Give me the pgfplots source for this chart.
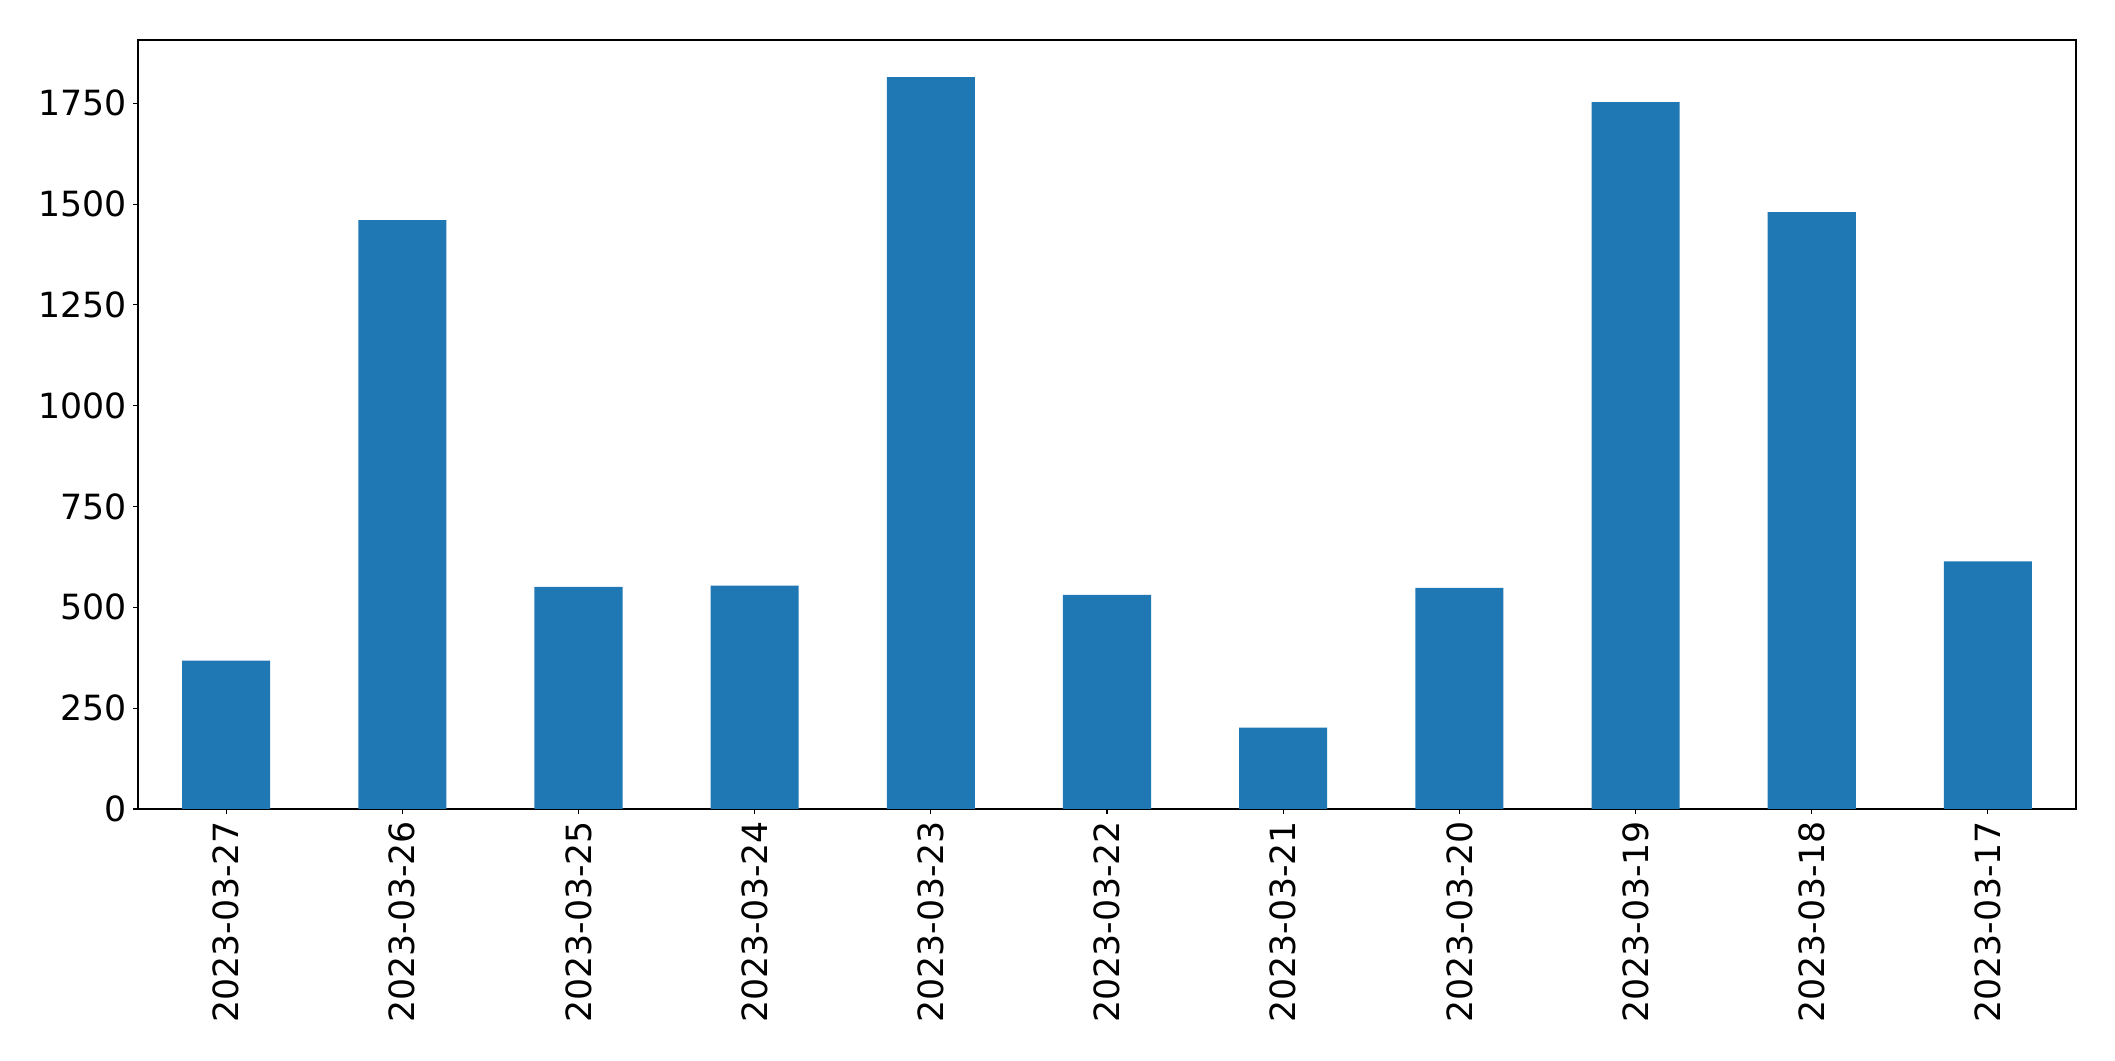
\documentclass[border=0pt]{standalone}
\usepackage{fontspec}
\setmainfont{DejaVu Sans}
\usepackage{pgfplots}
\pgfplotsset{compat=1.18}
\definecolor{mplblue}{HTML}{1F77B4}
\begin{document}
\begin{tikzpicture}
\begin{axis}[
  name=ax,
  scale only axis,
  width=1395.4pt, height=553.7pt,
  xmin=-0.5, xmax=10.5,
  ymin=0, ymax=1907,
  xtick={0,...,10},
  xticklabels={2023-03-27,2023-03-26,2023-03-25,2023-03-24,2023-03-23,2023-03-22,2023-03-21,2023-03-20,2023-03-19,2023-03-18,2023-03-17},
  ytick={0,250,500,750,1000,1250,1500,1750},
  scaled y ticks=false,
  /pgf/number format/assume math mode=true,
  /pgf/number format/1000 sep={},
  tick label style={font=\fontsize{25}{29}\selectfont},
  xticklabel style={rotate=90, anchor=east, inner sep=5pt},
  yticklabel style={inner sep=4.5pt},
  tick align=outside,
  xtick pos=lower, ytick pos=left,
  major tick length=3.5pt,
  every tick/.style={black, line width=0.8pt},
  axis line style={line width=0.8pt},
  ybar, bar width=0.5,
]
\addplot[fill=mplblue, draw=none] coordinates {
(0,368) (1,1460) (2,551) (3,554) (4,1815) (5,531) (6,202) (7,548) (8,1753) (9,1480) (10,614)
};
\end{axis}
\pgfresetboundingbox
\path[use as bounding box] ([xshift=-99.4pt,yshift=-181.4pt]ax.south west) rectangle ([xshift=28.1pt,yshift=28.8pt]ax.north east);
\end{tikzpicture}
\end{document}
